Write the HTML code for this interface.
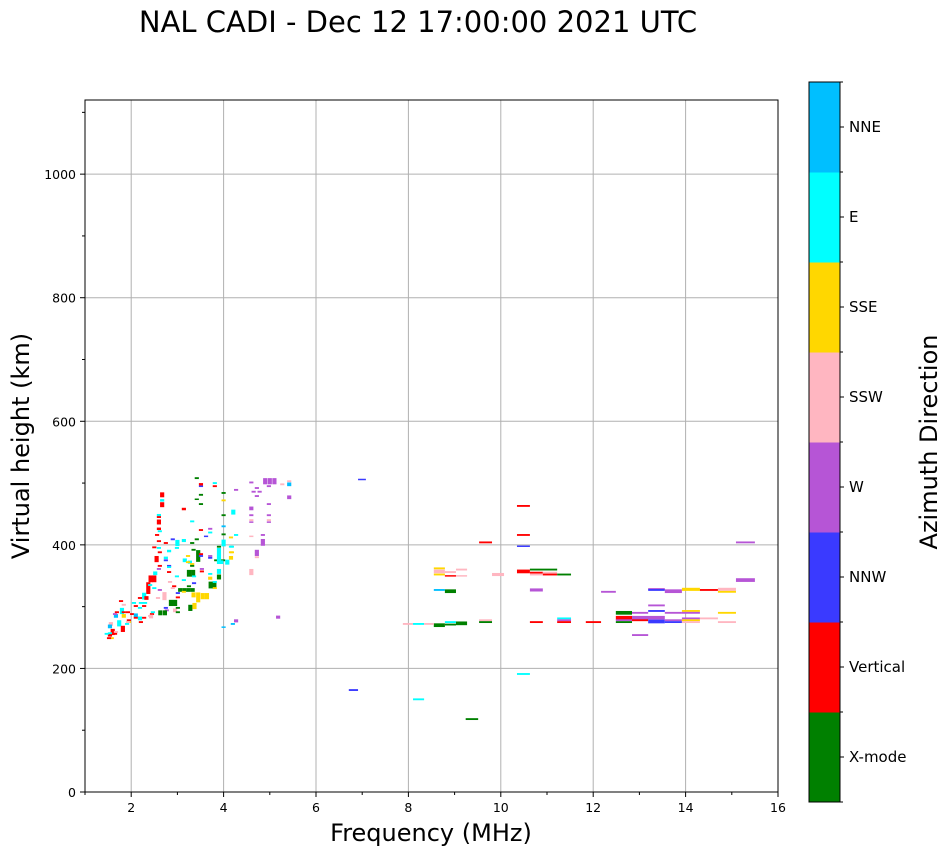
<!DOCTYPE html>
<html><head><meta charset="utf-8"><style>
body{margin:0;background:#fff}
svg text{font-family:"DejaVu Sans","Liberation Sans",sans-serif}
</style></head><body>
<svg id="chart" width="951" height="856" viewBox="0 0 951 856" xmlns="http://www.w3.org/2000/svg">
<rect width="951" height="856" fill="#fff"/>
<text x="418" y="32" font-size="29" text-anchor="middle">NAL CADI - Dec 12 17:00:00 2021 UTC</text>
<g id="grid"></g>
<g id="marks"></g>
<rect x="85" y="100" width="693" height="692" fill="none" stroke="#000" stroke-width="1"/>
<g id="axes"></g>
<text x="431" y="841" font-size="24" text-anchor="middle">Frequency (MHz)</text>
<text transform="translate(29,446) rotate(-90)" font-size="24" text-anchor="middle">Virtual height (km)</text>
<g id="cbar"></g>
<text transform="translate(937,442) rotate(-90)" font-size="24" text-anchor="middle">Azimuth Direction</text>
</svg>
<script>
const directions=["X-mode","Vertical","NNW","W","SSW","SSE","E","NNE"];
const dirColors=["#008000","#ff0000","#3a3aff","#b655d6","#ffb6c1","#ffd700","#00ffff","#00bfff"];
const xTicks=[2,4,6,8,10,12,14,16];
const yTicks=[0,200,400,600,800,1000];
// cluster cells: [freq MHz, height km, direction index, height extent km]
const cluster=[
[3.42,508,0,3],[3.51,498,1,4],[3.51,495,2,2],[3.81,495,1,3],[3.81,500,6,3],[3.51,481,0,3],[2.67,481,1,8],[2.67,472,6,4],[2.67,465,1,8],[3.42,474,0,2],[3.51,466,0,3],[3.14,458,1,4],
[2.60,448,6,4],[2.60,445,1,3],[2.60,437,1,8],[3.32,438,6,3],[3.51,424,1,3],[2.60,426,1,4],[2.62,422,6,3],[3.71,426,3,3],[3.71,420,6,3],[2.56,416,1,3],[3.42,409,0,3],[3.62,414,2,2],
[2.90,409,2,3],[3.00,403,6,10],[3.14,407,6,5],[2.75,403,1,3],[2.60,406,1,3],[3.32,403,0,3],[2.50,396,1,3],[2.60,395,6,3],[2.82,390,6,4],[2.62,388,1,3],[2.99,395,6,3],[3.35,392,0,3],
[3.45,382,0,19],[3.51,385,1,3],[3.51,382,2,3],[3.71,382,3,3],[3.71,379,2,3],[3.84,375,0,3],[2.55,377,1,10],[2.75,379,6,4],[2.75,375,2,3],[3.16,375,6,6],[3.23,382,5,3],[3.27,372,6,5],
[3.90,382,6,26],[3.90,397,0,3],[3.99,375,0,3],[4.08,372,6,8],[4.16,388,5,3],[4.16,397,6,3],[4.16,379,5,6],[2.62,366,1,3],[2.60,361,3,3],[2.52,354,6,6],[2.42,345,1,11],[2.50,345,1,11],
[2.82,366,2,3],[2.82,356,1,3],[2.82,364,6,3],[3.25,354,0,11],[3.34,354,0,11],[3.32,369,5,3],[3.32,366,0,3],[3.53,361,3,3],[3.53,357,1,3],[3.23,372,5,3],[2.99,349,6,3],[3.14,343,6,3],
[3.36,338,2,3],[3.36,349,6,3],[3.25,333,0,3],[3.72,335,0,11],[3.80,335,0,11],[3.71,353,6,3],[3.71,346,5,5],[3.81,340,6,3],[3.81,330,5,3],[3.90,348,0,8],[3.90,357,6,8],
[2.37,330,1,19],[2.41,335,6,3],[2.62,327,3,3],[2.28,317,6,11],[2.33,314,1,6],[2.84,340,4,3],[2.93,333,1,3],[2.90,330,4,3],[2.50,330,6,3],
[3.06,327,0,6],[3.15,327,0,6],[3.24,327,0,6],[3.33,327,0,6],[3.01,322,2,3],[3.01,315,1,3],[3.14,324,5,3],[3.35,319,5,8],[3.45,315,5,16],[3.55,317,5,10],[3.64,317,5,10],
[2.72,317,4,13],[2.58,314,4,3],[2.86,306,0,10],[2.95,306,0,10],[3.28,298,0,10],[3.37,301,5,10],[2.21,306,6,3],[2.30,306,6,3],[2.19,314,1,3],[2.06,306,6,3],[2.10,301,1,3],[2.19,298,6,3],
[2.28,301,1,3],[2.45,288,1,3],[2.47,291,6,3],[2.43,284,4,6],[2.75,298,2,3],[2.77,294,3,3],[2.95,294,4,6],[2.63,290,0,8],[2.73,290,0,8],[3.01,298,0,3],[3.01,291,0,3],
[1.80,293,6,10],[1.84,303,4,3],[1.78,309,1,3],[2.02,288,1,3],[1.93,291,1,3],[2.10,286,7,6],[2.10,282,1,3],[2.19,281,6,6],[2.28,282,1,3],[1.84,285,5,6],[1.84,291,1,3],
[1.67,285,7,6],[1.69,291,1,3],[1.65,288,3,3],[1.74,273,6,10],[1.82,264,1,10],[1.95,278,1,3],[1.95,275,5,3],[1.93,275,4,3],[1.91,272,6,3],[1.56,272,4,6],[1.54,268,7,6],
[1.60,259,1,10],[1.54,254,1,5],[1.54,257,6,3],[1.58,249,5,3],[1.52,249,1,3],[1.47,256,6,3],[1.67,259,4,3],[1.65,256,1,3],[2.21,275,1,3],[2.41,285,4,3],
[5.18,283,3,5],[4.27,277,3,5],[4.20,272,7,3],[4.00,267,7,2],
[4.60,501,3,3],[4.90,503,3,10],[5.00,503,3,10],[5.10,503,3,10],[4.72,492,3,3],[4.98,495,3,3],[5.42,498,7,6],[5.27,498,4,3],[5.42,503,4,3],[4.27,489,3,3],[4.65,486,3,3],[4.78,486,3,3],
[4.72,479,3,3],[5.42,477,3,6],[4.00,484,0,3],[4.00,472,5,3],[4.60,459,3,6],[4.98,466,3,3],[4.21,453,6,8],[4.00,448,0,3],[4.60,448,3,3],[4.98,448,3,3],[4.60,440,4,3],[4.60,437,3,2],
[4.98,440,4,3],[4.98,437,3,2],[4.00,430,7,3],[4.16,412,5,3],[4.27,416,6,3],[4.00,417,0,3],[4.85,416,3,3],[4.60,414,4,2],[4.85,404,3,11],[4.00,403,6,11],[4.18,397,6,3],[4.18,388,5,3],
[4.72,387,3,10],[4.72,380,4,3],[4.60,356,4,10],[3.95,372,6,6]
];
// bands: [freq start, freq end, height km, direction index, height extent km]
const bands=[
[10.35,10.63,463,1,3],[10.35,10.63,416,1,3],[9.53,9.81,404,1,3],[10.35,10.63,398,2,2],[15.09,15.50,404,3,3],[8.55,8.79,362,5,3],[8.55,8.79,357,4,6],[8.55,8.79,352,5,3],
[8.79,9.03,356,4,3],[8.79,9.03,350,1,2],[9.03,9.27,360,4,3],[9.03,9.27,350,4,2],[9.81,10.07,352,4,5],[10.35,10.63,357,1,6],[10.63,11.22,360,0,3],[10.63,10.91,355,1,3],
[10.63,10.91,352,4,3],[10.91,11.22,355,4,3],[10.91,11.22,352,1,3],[11.22,11.52,352,0,3],[15.09,15.50,343,3,6],[8.55,8.79,327,7,3],[8.79,9.03,325,0,6],[10.63,10.91,327,3,5],
[12.17,12.49,324,3,3],[13.19,13.55,329,3,2],[13.19,13.55,327,2,3],[13.55,13.92,325,3,6],[13.92,14.31,328,5,5],[14.31,14.70,327,1,3],[14.70,15.09,328,4,5],[14.70,15.09,324,5,3],
[13.19,13.55,302,3,3],[12.49,12.84,290,0,6],[13.19,13.55,293,2,3],[12.84,13.19,290,3,3],[13.55,13.92,290,3,3],[13.92,14.31,293,5,3],[13.92,14.31,290,3,3],[14.70,15.09,290,5,3],
[12.49,12.84,282,1,6],[12.84,13.55,282,3,6],[12.49,12.84,278,3,3],[12.84,13.19,278,1,3],[13.19,13.55,276,2,6],[13.55,13.92,278,3,3],[13.55,13.92,275,2,3],[13.92,14.31,281,3,3],
[13.92,14.31,278,5,3],[13.92,14.31,275,4,3],[14.31,14.70,281,4,3],[14.70,15.09,275,4,3],[12.49,12.84,275,0,3],[11.22,11.52,281,6,3],[11.22,11.52,278,3,3],[11.22,11.52,275,1,3],
[10.63,10.91,275,1,3],[11.84,12.17,275,1,3],[9.53,9.81,278,4,3],[9.53,9.81,275,0,3],[9.03,9.27,273,0,6],[8.79,9.03,275,6,3],[8.79,9.03,271,0,3],[8.55,8.79,270,0,6],
[7.88,8.10,272,4,3],[8.10,8.34,272,6,3],[8.34,8.55,272,4,3],[12.84,13.19,254,3,3],[10.35,10.63,191,6,3],[6.91,7.08,506,2,2],[6.71,6.91,165,2,3],[8.10,8.34,150,6,3],[9.24,9.51,118,0,3]
];
const X0=85,X1=778,Y0=792,Y1=100,FMIN=1,FMAX=16,HMIN=0,HMAX=1120;
const xs=f=>X0+(f-FMIN)/(FMAX-FMIN)*(X1-X0);
const ys=h=>Y0-(h-HMIN)/(HMAX-HMIN)*(Y0-Y1);
const NS="http://www.w3.org/2000/svg";
function mk(tag,attrs,parent){const e=document.createElementNS(NS,tag);for(const k in attrs)e.setAttribute(k,attrs[k]);parent.appendChild(e);return e;}
const grid=document.getElementById('grid'),marks=document.getElementById('marks'),axes=document.getElementById('axes'),cbar=document.getElementById('cbar');
xTicks.forEach(t=>{
  if(t<16){const l=mk('line',{x1:xs(t),x2:xs(t),y1:Y1,y2:Y0,stroke:'#b0b0b0','stroke-width':1},grid);
  
  }
  const tk=mk('line',{x1:xs(t),x2:xs(t),y1:Y0,y2:Y0+5,stroke:'#000'},axes);
  
  
  const tx=mk('text',{x:xs(t),y:Y0+20,'font-size':12.5,'text-anchor':'middle'},axes);tx.textContent=t;
  
  
});
for(let f=1;f<=16;f++){if(f%2){const m=mk('line',{x1:xs(f),x2:xs(f),y1:Y0,y2:Y0+3,stroke:'#000'},axes);
  
  }}
yTicks.forEach(t=>{
  if(t>0){const l=mk('line',{x1:X0,x2:X1,y1:ys(t),y2:ys(t),stroke:'#b0b0b0','stroke-width':1},grid);
  
  }
  const tk=mk('line',{x1:X0-5,x2:X0,y1:ys(t),y2:ys(t),stroke:'#000'},axes);
  
  
  const tx=mk('text',{x:X0-9,y:ys(t)+5,'font-size':12.5,'text-anchor':'end'},axes);tx.textContent=t;
  
  
});
for(let h=100;h<=1100;h+=200){const m=mk('line',{x1:X0-3,x2:X0,y1:ys(h),y2:ys(h),stroke:'#000'},axes);
  
  }
const CW=0.09;
cluster.forEach(d=>{
  const [f,h,c,dh]=d;
  const x=xs(f-CW/2),w=xs(f+CW/2)-x,y=ys(h+dh/2),hh=ys(h-dh/2)-y;
  const r=mk('rect',{x:x,y:y,width:w,height:Math.max(hh,1.5),fill:dirColors[c]},marks);
  
  
});
bands.forEach(d=>{
  const [f0,f1,h,c,dh]=d;
  const y=ys(h+dh/2),hh=ys(h-dh/2)-y;
  const r=mk('rect',{x:xs(f0),y:y,width:xs(f1)-xs(f0),height:Math.max(hh,1.5),fill:dirColors[c]},marks);
  
  
});
const CBX=809,CBW=31,CBT=82,CBB=802,seg=(CBB-CBT)/directions.length;
directions.forEach((d,i)=>{
  const y=CBB-(i+1)*seg;
  const r=mk('rect',{x:CBX,y:y,width:CBW,height:seg+0.5,fill:dirColors[i]},cbar);
  
  
  const tk=mk('line',{x1:CBX+CBW,x2:CBX+CBW+4,y1:y+seg/2,y2:y+seg/2,stroke:'#000'},cbar);
  
  
  const tx=mk('text',{x:849,y:y+seg/2+5,'font-size':15},cbar);tx.textContent=d;
  
  
});
for(let i=0;i<=directions.length;i++){const m=mk('line',{x1:CBX+CBW,x2:CBX+CBW+3,y1:CBB-i*seg,y2:CBB-i*seg,stroke:'#000'},cbar);
  
  }
const fr=mk('rect',{x:CBX,y:CBT,width:CBW,height:CBB-CBT,fill:'none',stroke:'#000'},cbar);


</script>
</body></html>
